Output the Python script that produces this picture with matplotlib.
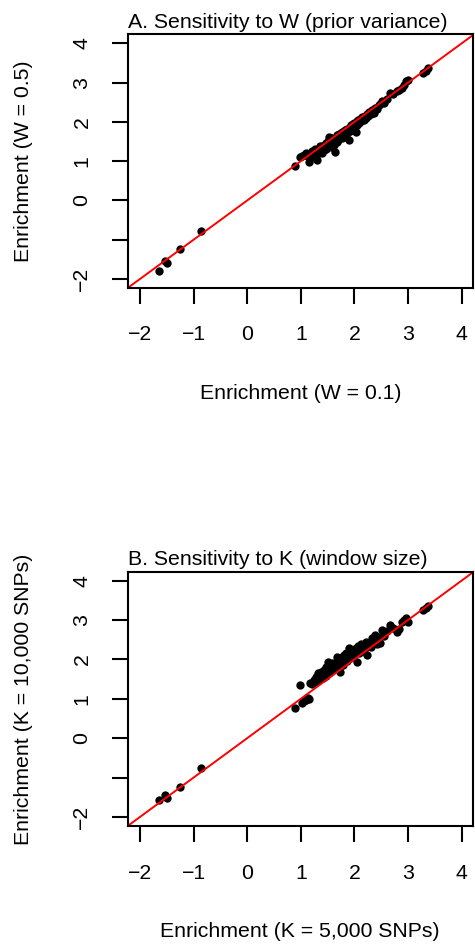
import numpy as np
import matplotlib
matplotlib.use('Agg')
import matplotlib.pyplot as plt

plt.rcParams['font.family'] = ['Liberation Sans', 'DejaVu Sans']

# baseline enrichment (W = 0.1, K = 5,000 SNPs), shared by both panels
enrich_base = [-1.65, -1.53, -1.49, -1.25, -0.87,
               0.89, 0.98, 1.03, 1.06, 1.10, 1.13, 1.15,
               1.18, 1.21, 1.24, 1.26, 1.28, 1.30, 1.32, 1.33, 1.35, 1.37,
               1.38, 1.40, 1.41, 1.43, 1.44, 1.46, 1.47, 1.49, 1.50, 1.52,
               1.53, 1.55, 1.56, 1.58, 1.59, 1.61, 1.62, 1.64, 1.65, 1.67,
               1.68, 1.70, 1.71, 1.73, 1.74, 1.76, 1.77, 1.79, 1.80, 1.82,
               1.83, 1.85, 1.86, 1.88, 1.89, 1.91, 1.92, 1.94, 1.95, 1.97,
               1.98, 2.00, 2.02, 2.04, 2.05, 2.07, 2.09, 2.11, 2.13, 2.15,
               2.17, 2.19, 2.21, 2.23, 2.25, 2.28, 2.30, 2.33, 2.36, 2.39,
               2.42, 2.45, 2.48, 2.51, 2.55, 2.60, 2.66, 2.72, 2.80, 2.84,
               2.88, 2.93, 2.97, 3.00, 3.27, 3.33, 3.38]

# enrichment with W = 0.5
enrich_w05 = [-1.80, -1.53, -1.59, -1.24, -0.78,
              0.88, 1.11, 1.12, 1.16, 1.20, 1.14, 0.97,
              1.12, 1.25, 1.10, 1.30, 1.15, 1.03, 1.28, 1.20, 1.38, 1.25,
              1.30, 1.22, 1.35, 1.40, 1.28, 1.45, 1.32, 1.42, 1.52, 1.38,
              1.62, 1.45, 1.35, 1.50, 1.58, 1.42, 1.55, 1.24, 1.60, 1.48,
              1.66, 1.55, 1.68, 1.62, 1.72, 1.60, 1.75, 1.67, 1.78, 1.70,
              1.80, 1.62, 1.82, 1.74, 1.54, 1.88, 1.78, 1.92, 1.84, 1.95,
              1.86, 1.97, 1.75, 2.02, 1.92, 2.06, 1.98, 2.08, 2.02, 2.12,
              2.05, 2.16, 2.10, 2.20, 2.14, 2.26, 2.20, 2.30, 2.22, 2.36,
              2.34, 2.42, 2.45, 2.52, 2.48, 2.58, 2.73, 2.70, 2.78, 2.82,
              2.86, 2.95, 3.04, 3.07, 3.25, 3.30, 3.38]

# enrichment with K = 10,000 SNPs
enrich_k10k = [-1.58, -1.45, -1.52, -1.24, -0.77,
               0.76, 1.35, 0.88, 0.94, 0.97, 1.03, 1.00,
               1.40, 1.38, 1.47, 1.42, 1.55, 1.50, 1.65, 1.48, 1.60, 1.55,
               1.68, 1.62, 1.52, 1.72, 1.66, 1.58, 1.80, 1.70, 1.94, 1.75,
               1.66, 1.85, 1.78, 1.72, 1.90, 1.83, 1.76, 1.92, 1.80, 2.07,
               1.88, 1.95, 1.82, 1.69, 2.00, 1.93, 2.05, 1.86, 2.10, 1.98,
               2.02, 2.15, 1.95, 2.08, 2.28, 2.12, 2.03, 2.20, 2.10, 2.25,
               2.05, 2.18, 2.30, 1.94, 2.22, 2.35, 2.15, 2.28, 2.40, 2.20,
               2.36, 2.30, 2.45, 2.11, 2.38, 2.42, 2.32, 2.55, 2.47, 2.62,
               2.40, 2.58, 2.41, 2.75, 2.60, 2.72, 2.86, 2.80, 2.70, 2.76,
               2.96, 3.01, 3.04, 2.96, 3.25, 3.30, 3.36]

tick_vals = [-2, -1, 0, 1, 2, 3, 4]
xtick_labels = ['\u22122', '\u22121', '0', '1', '2', '3', '4']
ytick_labels = ['\u22122', '', '0', '1', '2', '3', '4']

W, H = 475, 947
fs = 15.3

def draw_panel(box, yvals, title, xlab, ylab):
    left, right, top, bottom = box
    ax = plt.axes([left / W, 1 - bottom / H, (right - left) / W, (bottom - top) / H])
    ax.plot(enrich_base, yvals, 'o', color='black', markersize=6, markeredgewidth=0)
    ax.axline((0, 0), slope=1, color='red', linewidth=1.4)
    ax.set_xlim(-2.233, 4.211)
    ax.set_ylim(-2.23, 4.225)
    ax.set_xticks(tick_vals)
    ax.set_xticklabels(xtick_labels, fontsize=fs)
    ax.set_yticks(tick_vals)
    ax.set_yticklabels(ytick_labels, fontsize=fs, rotation=90, va='center')
    ax.tick_params(axis='both', length=11.5, width=1.5, direction='out')
    ax.tick_params(axis='x', pad=15.5)
    ax.tick_params(axis='y', pad=14.5)
    for s in ax.spines.values():
        s.set_linewidth(1.5)
    ax.set_title(title, loc='left', fontsize=fs, pad=4.5)
    fig.text(((left + right) / 2) / W, 1 - (bottom + 111) / H, xlab,
             fontsize=fs, ha='center', va='baseline')
    fig.text(29 / W, 1 - ((top + bottom) / 2) / H, ylab, fontsize=fs,
             rotation=90, ha='center', va='baseline', rotation_mode='anchor')
    return ax

fig = plt.figure(figsize=(W / 100, H / 100), dpi=100)
draw_panel((127.5, 473, 34.5, 288), enrich_w05,
           'A. Sensitivity to W (prior variance)',
           'Enrichment (W = 0.1)', 'Enrichment (W = 0.5)')
draw_panel((127.5, 473, 571.7, 826), enrich_k10k,
           'B. Sensitivity to K (window size)',
           'Enrichment (K = 5,000 SNPs)', 'Enrichment (K = 10,000 SNPs)')

plt.savefig('out.png', dpi=100)
